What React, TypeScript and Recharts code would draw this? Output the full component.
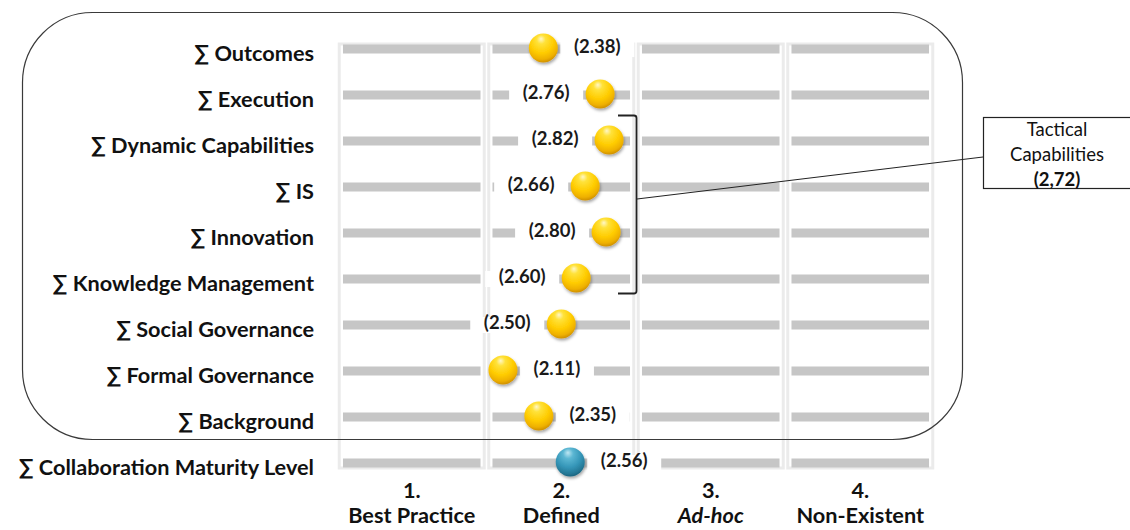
import { ScatterChart, Scatter, XAxis, YAxis, ReferenceLine, ReferenceArea } from "recharts";

// rows, top to bottom
const categories = [
  "∑ Outcomes",
  "∑ Execution",
  "∑ Dynamic Capabilities",
  "∑ IS",
  "∑ Innovation",
  "∑ Knowledge Management",
  "∑ Social Governance",
  "∑ Formal Governance",
  "∑ Background",
  "∑ Collaboration Maturity Level",
];
const scores = [2.38, 2.76, 2.82, 2.66, 2.8, 2.6, 2.5, 2.11, 2.35, 2.56];

// maturity levels along the x axis
const levelNumbers = ["1.", "2.", "3.", "4."];
const levelNames = ["Best Practice", "Defined", "Ad-hoc", "Non-Existent"];
const levelStarts = [1, 2, 3, 4];

const tacticalLabel = ["Tactical", "Capabilities"];
const tacticalScore = "(2,72)";

// styling only: which value labels sit left of the ball
const labelLeft = [false, true, true, true, true, true, true, false, false, false];

const FONT = "Lato, 'Open Sans', sans-serif";
const W = 1130;
const H = 530;

const points = categories.map((name, i) => ({
  x: scores[i],
  y: i,
  name,
  left: labelLeft[i],
  total: i === categories.length - 1,
}));

const rowTicks = categories.map((_, i) => i);

function CategoryTick({ x, y, payload }: any) {
  return (
    <text
      x={x}
      y={y + 4}
      textAnchor="end"
      dominantBaseline="central"
      fontFamily={FONT}
      fontWeight={700}
      fontSize={21.7}
      fill="#111"
    >
      {categories[payload.value]}
    </text>
  );
}

function LevelTick({ x, y, index }: any) {
  return (
    <text x={x} y={y} textAnchor="middle" fontFamily={FONT} fontWeight={700} fontSize={21.7} fill="#111">
      <tspan x={x} dy={28}>
        {levelNumbers[index]}
      </tspan>
      <tspan x={x} dy={25} fontStyle={index === 2 ? "italic" : "normal"}>
        {levelNames[index]}
      </tspan>
    </text>
  );
}

function Ball({ cx, cy, payload }: any) {
  if (cx == null || cy == null) return null;
  const lx = payload.left ? cx - 54 : cx + 54;
  return (
    <g>
      <rect x={lx - 37} y={cy - 8} width={74} height={16} fill="#fff" />
      <text
        x={lx}
        y={cy - 3}
        textAnchor="middle"
        dominantBaseline="central"
        fontFamily={FONT}
        fontWeight={700}
        fontSize={18.5}
        fill="#1a1a1a"
      >
        ({payload.x.toFixed(2)})
      </text>
      <circle
        cx={cx}
        cy={cy - 1}
        r={14.5}
        fill={payload.total ? "url(#ballBlue)" : "url(#ballGold)"}
        filter="url(#ballShadow)"
      />
    </g>
  );
}

export default function App() {
  return (
    <div style={{ position: "absolute", left: 0, top: 0, width: W, height: H, background: "#fff" }}>
      <ScatterChart width={W} height={H} margin={{ top: 44, right: 195, bottom: 0, left: 0 }}>
        <XAxis
          type="number"
          dataKey="x"
          domain={[1, 5]}
          ticks={[1.5, 2.5, 3.5, 4.5]}
          interval={0}
          axisLine={false}
          tickLine={false}
          tickSize={0}
          height={62}
          tick={<LevelTick />}
        />
        <YAxis
          type="number"
          dataKey="y"
          domain={[-0.11, 9.11]}
          reversed
          ticks={rowTicks}
          interval={0}
          axisLine={false}
          tickLine={false}
          tickSize={0}
          tickMargin={23}
          width={337}
          tick={<CategoryTick />}
        />
        {levelStarts.map((c) => (
          <ReferenceArea
            key={`col-${c}`}
            x1={c + 0.015}
            x2={c + 0.985}
            fill="none"
            stroke="#ebebeb"
            strokeWidth={3}
            ifOverflow="visible"
          />
        ))}
        {rowTicks.map((r) =>
          levelStarts.map((c) => (
            <ReferenceLine
              key={`bar-${r}-${c}`}
              segment={[
                { x: c + 0.04, y: r },
                { x: c + 0.96, y: r },
              ]}
              stroke="#c6c6c6"
              strokeWidth={9}
            />
          ))
        )}
        <Scatter data={points} shape={<Ball />} isAnimationActive={false} />
      </ScatterChart>

      <svg
        width={W}
        height={H}
        style={{ position: "absolute", left: 0, top: 0, pointerEvents: "none" }}
      >
        <defs>
          <radialGradient id="ballGold" cx="45%" cy="30%" r="70%" fx="42%" fy="18%">
            <stop offset="0%" stopColor="#fff7c8" />
            <stop offset="22%" stopColor="#ffe23a" />
            <stop offset="60%" stopColor="#ffcc00" />
            <stop offset="86%" stopColor="#eeb000" />
            <stop offset="100%" stopColor="#cf9000" />
          </radialGradient>
          <radialGradient id="ballBlue" cx="45%" cy="30%" r="70%" fx="42%" fy="18%">
            <stop offset="0%" stopColor="#bfe7f3" />
            <stop offset="25%" stopColor="#5cb7d3" />
            <stop offset="62%" stopColor="#3596b8" />
            <stop offset="88%" stopColor="#257997" />
            <stop offset="100%" stopColor="#1b6580" />
          </radialGradient>
          <filter id="ballShadow" x="-40%" y="-40%" width="180%" height="180%">
            <feDropShadow dx="1" dy="2" stdDeviation="1.5" floodColor="#000" floodOpacity="0.35" />
          </filter>
        </defs>
        <rect x={22.5} y={12.5} width={940} height={427} rx={70} fill="none" stroke="#3a3a3a" strokeWidth={1.2} />
        <path
          d="M618 115.5 H634 Q636.5 115.5 636.5 118 V291 Q636.5 293.5 634 293.5 H618"
          fill="none"
          stroke="#222"
          strokeWidth={1.8}
        />
        <line x1={637} y1={199} x2={983} y2={157} stroke="#222" strokeWidth={1} />
        <rect x={983.5} y={117.5} width={150} height={71} fill="#fff" stroke="#222" strokeWidth={1.2} />
        <text x={1057} y={135.5} textAnchor="middle" fontFamily={FONT} fontSize={18.5} fill="#111">
          {tacticalLabel[0]}
        </text>
        <text x={1057} y={160.5} textAnchor="middle" fontFamily={FONT} fontSize={18.5} fill="#111">
          {tacticalLabel[1]}
        </text>
        <text x={1057} y={185.5} textAnchor="middle" fontFamily={FONT} fontWeight={700} fontSize={18.5} fill="#111">
          {tacticalScore}
        </text>
      </svg>
    </div>
  );
}
